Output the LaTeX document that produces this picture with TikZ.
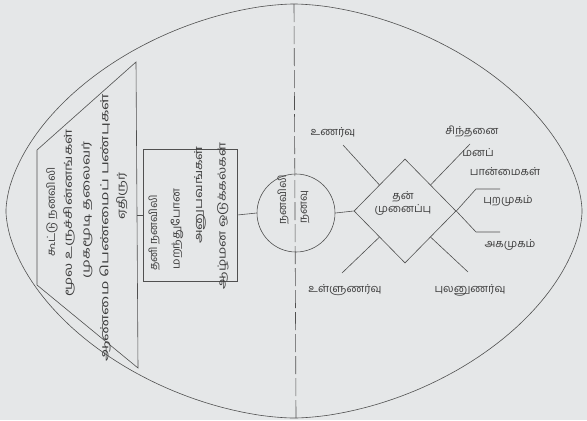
\documentclass[tikz,border=0pt]{standalone}
\usepackage{fontspec}
\usepackage{graphicx}
\newfontfamily\tam[Script=Tamil]{Hind Madurai}
\usetikzlibrary{shapes.geometric,calc}
\definecolor{bg}{HTML}{E5E7E8}
\definecolor{ink}{HTML}{505050}
\definecolor{txt}{HTML}{3C3C3C}
\newcommand{\strx}[2]{\scalebox{#1}[1]{#2}}
\begin{document}
\begin{tikzpicture}[x=1bp,y=-1bp,
  ln/.style={draw=ink,line width=0.6bp},
  lbl/.style={font=\tam\fontsize{11}{13}\selectfont,text=txt,inner sep=0pt},
  vlbl/.style={lbl,rotate=90}]
\fill[bg] (0,0) rectangle (587,420);
\useasboundingbox (0,0) rectangle (587,420);
% egg outline
\draw[ln] plot[domain=1:361,samples=181,smooth]
  ({294+288*sign(cos(\x))*abs(cos(\x))^1.1429},{211+207*sign(sin(\x))*abs(sin(\x))^1.1429}) -- cycle;
% dashed divider
\coordinate (dtop) at (294,4);
\coordinate (dbot) at (296,418);
\draw[ln,dash pattern=on 18bp off 4bp] (dtop) -- (dbot);
% trapezoid
\coordinate (t1) at (136,62);
\coordinate (t2) at (37,150);
\coordinate (t3) at (37,285);
\coordinate (t4) at (138,368);
\coordinate (trapR) at (137,215);
\draw[ln] (t1) -- (t2) -- (t3) -- (t4) -- cycle;
% box
\node[ln,minimum width=94bp,minimum height=132bp,inner sep=0pt] (box) at (190,215) {};
% circle
\node[ln,circle,minimum size=78bp,inner sep=0pt] (circ) at (296,213) {};
% diamond
\node[ln,diamond,minimum width=102bp,minimum height=104bp,inner sep=0pt] (dia) at (405,211) {};
\draw[ln] (trapR) -- (box.west);
\draw[ln] (box.east) -- (circ.west);
\draw[ln] (circ.east) -- (dia.west);
% diamond side midpoints and free ends
\coordinate (mUL) at ($(dia.north)!0.5!(dia.west)$);
\coordinate (mUR) at ($(dia.north)!0.5!(dia.east)$);
\coordinate (mLL) at ($(dia.south)!0.5!(dia.west)$);
\coordinate (mLR) at ($(dia.south)!0.5!(dia.east)$);
\coordinate (eUL) at (343,145);
\coordinate (eUR) at (470,144);
\coordinate (eLL) at (342,273);
\coordinate (eLR) at (468,272);
\draw[ln] (mUL) -- (eUL);
\draw[ln] (mUR) -- (eUR);
\draw[ln] (mLL) -- (eLL);
\draw[ln] (mLR) -- (eLR);
\coordinate (xa) at (476,189);
\coordinate (xb) at (500,189);
\coordinate (xc) at (476,232);
\coordinate (xd) at (500,232);
\draw[ln] (dia.east) -- (xa) -- (xb);
\draw[ln] (dia.east) -- (xc) -- (xd);
% right labels
\node[lbl] (unarvu) at (333,133) {உணர்வு};
\node[lbl] (sinthanai) at (472,131) {சிந்தனை};
\node[lbl] (manap) at (478,153) {மனப்};
\node[lbl] (paanmai) at (505,172) {பான்மைகள்};
\node[lbl] (puram) at (508,201) {புறமுகம்};
\node[lbl] (agam) at (510,245) {அகமுகம்};
\node[lbl] (pulan) at (470,290) {புலனுணர்வு};
\node[lbl] (ullu) at (345,290) {உள்ளுணர்வு};
\node[lbl,align=center] (dlbl) at (403,203) {தன்\\முனைப்பு};
% circle labels
\node[vlbl] (c1) at (283,200) {நனவிலி};
\node[vlbl] (c2) at (305,207) {நனவு};
% box labels
\node[vlbl] (b1) at (154,233) {தனி நனவிலி};
\node[vlbl] (b2) at (177,229) {\strx{1.08}{மறந்துபோன}};
\node[vlbl] (b3) at (200,195) {\strx{1.25}{அனுபவங்கள்}};
\node[vlbl] (b4) at (223,216) {\strx{1.26}{ஆழ்மன ஒடுக்கல்கள்}};
% trapezoid labels
\node[vlbl] (a1) at (52,212) {\strx{1.05}{கூட்டு நனவிலி}};
\node[vlbl] (a2) at (69,213) {\strx{1.35}{மூல உருச்சின்னங்கள்}};
\node[vlbl] (a3) at (87,210) {\strx{1.4}{முகமூடி தலைவர்}};
\node[vlbl] (a4) at (105,228) {\strx{1.48}{ஆண்மை பெண்மைப் பண்புகள்}};
\node[vlbl] (a5) at (122,196) {\strx{1.25}{ஏதிருர்}};
\end{tikzpicture}
\end{document}
